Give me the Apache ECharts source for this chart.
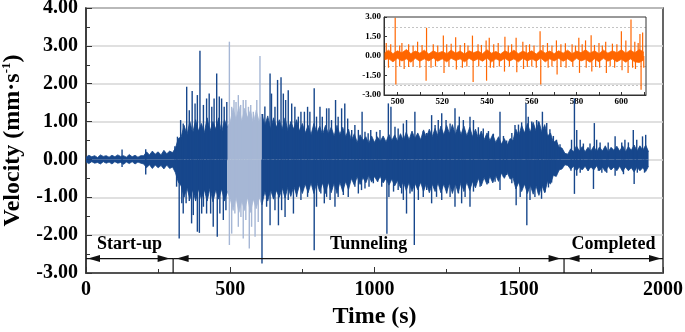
<!DOCTYPE html>
<html>
<head>
<meta charset="utf-8">
<script src="https://cdn.jsdelivr.net/npm/echarts@6/dist/echarts.min.js"></script>
<style>
  html, body { margin: 0; padding: 0; background: #fff; }
  #chart { width: 685px; height: 332px; }
</style>
</head>
<body>
<div id="chart"></div>
<script>
// main record: body envelope sampled every 10 s from t = 0
const bodyStep = 10
const bodyHi = [
  0.06, 0.11, 0.07, 0.1, 0.05, 0.12, 0.08, 0.1, 0.06, 0.11, 0.07, 0.12, 0.08, 0.1, 0.06, 0.13, 0.07, 0.11, 0.06, 0.1,
  0.1, 0.2, 0.12, 0.22, 0.14, 0.2, 0.12, 0.24, 0.15, 0.22, 0.18,
  0.3, 0.55, 0.6, 0.9, 0.65, 1.0, 0.7, 1.05, 0.75, 0.95, 0.7, 1.1, 0.75, 1.0, 0.8, 1.1, 0.7, 1.05, 0.85,
  1.0, 1.35, 1.05, 1.4, 1.0, 1.35, 1.1, 1.3, 0.95, 1.3, 1.0, 1.2,
  0.9, 1.15, 0.8, 1.1, 0.85, 1.05, 0.8, 1.1, 0.75, 1.0, 0.8, 1.05, 0.75,
  0.95, 0.7, 0.9, 0.65, 0.95, 0.7, 0.88, 0.65, 0.9, 0.68, 0.85, 0.62, 0.9, 0.66, 0.85, 0.6, 0.8,
  0.5, 0.68, 0.45, 0.65, 0.5, 0.6, 0.42, 0.62, 0.45, 0.6, 0.48, 0.62, 0.46, 0.66, 0.5, 0.65, 0.48, 0.68, 0.5,
  0.72, 0.52, 0.75, 0.55, 0.7, 0.52, 0.78, 0.58, 0.8, 0.6, 0.82, 0.62, 0.88, 0.65,
  0.9, 0.68, 0.92, 0.65, 0.9, 0.66, 0.88, 0.62, 0.85, 0.6, 0.8,
  0.55, 0.75, 0.52, 0.7, 0.5, 0.66, 0.45, 0.6,
  0.4, 0.55, 0.38, 0.55, 0.5,
  0.8, 0.62, 0.9, 0.7, 0.95, 0.72, 0.98, 0.75, 1.0, 0.72, 0.92,
  0.62, 0.7, 0.45, 0.5, 0.32, 0.3, 0.16,
  0.14, 0.28, 0.2, 0.36, 0.22, 0.34, 0.2, 0.32, 0.22, 0.35, 0.2, 0.33, 0.22, 0.36, 0.2, 0.32, 0.24, 0.35, 0.22, 0.36,
  0.2, 0.34, 0.24, 0.38, 0.22, 0.36, 0.24, 0.38, 0.2
]
const bodyLo = [
  -0.07, -0.11, -0.06, -0.1, -0.08, -0.12, -0.06, -0.1, -0.07, -0.12, -0.06, -0.1, -0.08, -0.13, -0.07, -0.11, -0.06, -0.12, -0.07, -0.1,
  -0.12, -0.22, -0.14, -0.24, -0.15, -0.22, -0.16, -0.25, -0.15, -0.24, -0.2,
  -0.35, -0.6, -0.7, -1.0, -0.75, -1.05, -0.8, -1.1, -0.78, -1.05, -0.8, -1.1, -0.75, -1.12, -0.8, -1.05, -0.78, -1.1, -0.85,
  -1.05, -1.35, -1.0, -1.4, -1.1, -1.35, -1.0, -1.4, -1.05, -1.3, -1.0, -1.2,
  -0.85, -1.1, -0.8, -1.05, -0.82, -1.0, -0.75, -1.02, -0.72, -0.98, -0.7, -0.95, -0.68,
  -0.9, -0.65, -0.88, -0.62, -0.9, -0.6, -0.85, -0.62, -0.9, -0.6, -0.88, -0.62, -0.9, -0.6, -0.85, -0.58, -0.8,
  -0.5, -0.68, -0.45, -0.66, -0.48, -0.62, -0.42, -0.6, -0.45, -0.58, -0.45, -0.62, -0.5, -0.68, -0.52, -0.7, -0.55, -0.75, -0.58,
  -0.82, -0.6, -0.85, -0.62, -0.8, -0.6, -0.85, -0.62, -0.88, -0.65, -0.85, -0.62, -0.88, -0.65,
  -0.88, -0.62, -0.9, -0.64, -0.88, -0.6, -0.85, -0.6, -0.82, -0.58, -0.75,
  -0.5, -0.7, -0.48, -0.66, -0.45, -0.62, -0.42, -0.58,
  -0.36, -0.5, -0.34, -0.52, -0.48,
  -0.78, -0.6, -0.85, -0.65, -0.9, -0.68, -0.92, -0.7, -0.95, -0.68, -0.88,
  -0.58, -0.65, -0.42, -0.45, -0.28, -0.25, -0.14,
  -0.16, -0.26, -0.18, -0.3, -0.2, -0.28, -0.18, -0.3, -0.2, -0.28, -0.17, -0.3, -0.2, -0.32, -0.18, -0.28, -0.2, -0.3, -0.18, -0.32,
  -0.2, -0.3, -0.22, -0.33, -0.2, -0.3, -0.22, -0.32, -0.18
]

// single peaks of the main record (time s, velocity)
const spikeT = [
  125, 207, 308, 317, 328, 337, 349, 358, 368, 378, 386, 395, 407, 418, 427, 436, 444, 453, 462, 470, 479, 488,
  497, 505, 513, 520, 528, 536, 545, 554, 563, 571, 580, 592, 603,
  612, 620, 638, 643, 655, 664, 676, 684, 692, 701, 713, 724, 736, 745, 757, 768, 776, 791, 799, 811, 819, 834, 842,
  851, 865, 874, 886, 897, 907, 921, 932, 944, 957, 967, 978, 987, 1007, 1019, 1048, 1057, 1071, 1082, 1100,
  1111, 1140, 1169, 1181, 1198, 1210, 1221, 1233, 1248, 1262, 1279, 1294, 1308, 1331, 1343, 1360, 1377, 1395,
  1412, 1435, 1447, 1458, 1476, 1487, 1499, 1510, 1525, 1533, 1545, 1562, 1568, 1582, 1597, 1608, 1620, 1631,
  1643, 1683, 1693, 1701, 1713, 1724, 1747, 1762, 1770, 1782, 1810, 1834, 1857, 1868, 1880, 1897, 1909, 1929, 1940,
  125, 207, 314, 323, 332, 337, 347, 358, 366, 372, 386, 393, 401, 407, 418, 432, 441, 455, 464, 476, 485,
  497, 505, 516, 528, 537, 545, 554, 566, 574, 586, 597,
  610, 626, 638, 655, 667, 678, 690, 701, 719, 730, 745, 768, 791, 799, 814, 826, 834, 846, 863, 874, 892, 909,
  932, 944, 955, 967, 981, 996, 1011, 1025, 1043, 1050, 1066, 1082, 1094, 1100, 1111, 1123, 1138, 1152, 1169,
  1181, 1198, 1215, 1233, 1250, 1262, 1279, 1291, 1302, 1314, 1331, 1343, 1366, 1395, 1418, 1435, 1447, 1458,
  1476, 1491, 1505, 1528, 1539, 1556, 1568, 1579, 1591, 1603, 1614, 1625, 1681, 1693, 1701, 1713, 1741, 1759,
  1776, 1788, 1805, 1834, 1863, 1900, 1911, 1936
]
const spikeV = [
  0.26, 0.27, 0.35, 0.6, 1.04, 0.95, 1.92, 1.3, 1.81, 1.48, 1.7, 2.87, 1.44, 1.61, 1.74, 1.39, 1.61, 2.27, 1.66, 1.61, 1.39, 1.52,
  3.11, 1.39, 1.57, 1.52, 1.7, 1.44, 1.57, 1.57, 1.39, 1.44, 1.26, 1.57, 2.73,
  1.2, 1.4, 2.27, 1.74, 1.39, 2.1, 2.17, 1.74, 1.57, 1.83, 1.48, 1.39, 1.13, 1.26, 1.26, 1.39, 1.26, 1.88, 1.13, 1.39, 1.13, 1.35, 1.35,
  1.04, 1.57, 1.13, 1.35, 1.48, 1.08, 0.78, 0.91, 0.78, 1.26, 0.73, 0.69, 0.78, 0.73, 0.78, 1.48, 1.39, 0.86, 0.82, 0.95,
  1.04, 1.26, 0.75, 0.7, 1.17, 0.91, 1.04, 1.22, 1.04, 0.95, 1.35, 1.13, 1.04, 1.13, 1.04, 0.85, 0.82, 0.75,
  0.68, 1.26, 0.62, 0.5, 0.7, 0.91, 0.92, 0.98, 1.48, 1.13, 1.0, 1.04, 1.0, 1.26, 0.96, 0.8, 0.62, 0.52,
  0.4, 0.52, 1.61, 0.78, 0.52, 0.42, 0.42, 0.96, 0.52, 0.45, 0.45, 0.61, 0.45, 0.52, 0.45, 0.78, 0.52, 0.61, 0.65,
  -0.2, -0.4, -0.72, -2.09, -1.16, -1.43, -1.16, -1.1, -1.69, -1.47, -1.91, -1.94, -1.43, -1.25, -1.43, -1.43, -1.78, -2.04, -1.43, -1.6, -1.34,
  -2.26, -1.96, -1.43, -1.78, -1.52, -2.09, -1.6, -2.35, -1.78, -2.04, -1.65,
  -2.75, -1.25, -1.74, -1.34, -1.74, -1.34, -1.52, -1.07, -1.43, -0.99, -1.07, -0.99, -2.4, -1.25, -0.9, -1.16, -0.99, -1.07, -1.25, -0.99, -0.94, -0.99,
  -0.72, -0.9, -0.81, -0.77, -0.72, -0.63, -0.59, -0.72, -1.96, -0.99, -0.85, -0.81, -0.9, -1.07, -1.43, -0.9, -2.26, -1.07, -0.99,
  -0.81, -1.16, -0.99, -1.07, -0.9, -0.99, -1.25, -0.9, -1.16, -0.99, -1.25, -0.85, -0.72, -0.63, -0.59, -0.81, -0.46, -0.41,
  -0.63, -1.21, -0.99, -1.74, -1.07, -0.99, -0.9, -1.04, -0.87, -0.74, -0.61, -0.43, -0.3, -0.91, -0.43, -0.35, -0.3, -0.78,
  -0.3, -0.35, -0.35, -0.43, -0.39, -0.65, -0.35, -0.35
]

// highlighted window (s), shown enlarged in the inset
const zoomFrom = 490
const zoomTo = 610

// inset record: body envelope sampled every 2 s from t = 494
const insetStart = 494
const insetStep = 2
const insetHi = [
  0.2, 0.45, 0.18, 0.4, 0.25, 0.5, 0.18, 0.38, 0.22, 0.45,
  0.15, 0.4, 0.22, 0.35, 0.18, 0.45, 0.22, 0.38, 0.15, 0.4,
  0.25, 0.38, 0.18, 0.48, 0.22, 0.35, 0.15, 0.4, 0.22, 0.45,
  0.18, 0.38, 0.22, 0.4, 0.15, 0.45, 0.22, 0.38, 0.18, 0.4,
  0.22, 0.45, 0.18, 0.38, 0.25, 0.48, 0.22, 0.4, 0.18, 0.45,
  0.22, 0.4, 0.25, 0.48, 0.22, 0.45, 0.25, 0.5, 0.3
]
const insetLo = [
  -0.3, -0.2, -0.45, -0.18, -0.38, -0.22, -0.48, -0.18, -0.4, -0.22,
  -0.38, -0.15, -0.4, -0.22, -0.45, -0.18, -0.35, -0.22, -0.45, -0.18,
  -0.38, -0.22, -0.4, -0.15, -0.45, -0.22, -0.38, -0.18, -0.4, -0.22,
  -0.45, -0.18, -0.38, -0.22, -0.4, -0.15, -0.45, -0.22, -0.38, -0.18,
  -0.4, -0.22, -0.45, -0.18, -0.38, -0.25, -0.48, -0.22, -0.45, -0.18,
  -0.4, -0.22, -0.45, -0.25, -0.48, -0.22, -0.45, -0.5, -0.3
]
const insetSpikeT = [
  495, 497, 499, 501, 502, 505, 507, 509, 511, 513, 516, 518, 520.5, 522, 524, 526, 528, 530, 531.5, 533.5, 536,
  537.5, 539.6, 541, 543, 545, 548, 549.5, 551, 553, 556, 557.5, 559, 561, 563.7, 565, 567, 569, 571, 573, 575,
  578, 579.5, 581, 582.5, 584, 586.5, 588, 590, 591.5, 593, 596, 598, 600, 602, 604.3, 606, 607.5, 608.3, 609.5,
  496, 499.3, 501, 503, 505, 507, 510, 512.8, 515, 517, 520.8, 523, 526.3, 529, 531, 533.8, 536.3, 539.8, 541.5,
  543, 545.5, 547.8, 550, 553.3, 556.3, 558, 560, 562, 564, 567.3, 569, 571.3, 573, 575.3, 578.3, 581.3, 584.3,
  586.8, 588.5, 590.3, 593.3, 595, 597, 600.3, 603, 605, 606.3, 608.8, 610
]
const insetSpikeV = [
  1.0, 0.9, 2.95, 0.8, 1.0, 0.9, 0.8, 1.1, 0.85, 2.17, 0.9, 0.8, 1.57, 0.9, 0.95, 1.44, 0.85, 1.0, 0.8, 1.57, 0.9,
  0.85, 1.2, 1.4, 0.9, 1.0, 1.48, 0.8, 0.9, 1.4, 1.1, 0.85, 0.9, 0.8, 1.9, 0.85, 1.0, 0.8, 1.2, 0.9, 0.98,
  0.9, 0.8, 1.4, 0.9, 1.2, 1.6, 0.85, 1.0, 0.8, 1.1, 0.95, 0.9, 1.9, 1.2, 2.8, 1.1, 1.0, 1.7, 1.8,
  -0.9, -2.2, -0.8, -1.0, -0.85, -0.8, -0.9, -1.9, -0.9, -0.8, -1.3, -0.8, -1.04, -0.9, -0.8, -2.0, -0.8, -1.9, -0.9,
  -0.9, -0.8, -1.2, -0.8, -1.25, -1.0, -0.85, -0.8, -0.9, -2.2, -0.9, -0.8, -1.43, -0.85, -0.9, -0.8, -1.3, -0.9,
  -1.2, -0.85, -0.9, -1.3, -0.8, -0.9, -1.1, -1.3, -0.9, -1.0, -2.6, -0.9
]
const insetTicks = [500, 510, 520, 530, 540, 550, 560, 570, 580, 590, 600, 610]
const insetLabels = [500, 520, 540, 560, 580, 600]

// construction phases
const phaseNames = ['Start-up', 'Tunneling', 'Completed']
const phaseStart = [0, 302, 1657]
const phaseEnd = [302, 1657, 2000]

const darkBlue = '#17478c'
const lightBlue = '#a6b7d5'
const orange = '#ff6600'
const serif = '"Liberation Serif", "Times New Roman", serif'

function bodyPoints(vals, t0, step, from, to) {
  const pts = []
  vals.forEach((v, i) => {
    const t = t0 + i * step
    if (t >= from && t <= to) pts.push([t, v])
  })
  return pts
}

function areaSeries(pts, color, idx) {
  return {
    type: 'line',
    xAxisIndex: idx,
    yAxisIndex: idx,
    data: pts,
    showSymbol: false,
    symbol: 'none',
    silent: true,
    lineStyle: { width: 0.8, color: color },
    itemStyle: { color: color },
    areaStyle: { color: color, opacity: 1 },
    z: 2
  }
}

function spikeSeries(pts, color, idx, w) {
  return {
    type: 'custom',
    xAxisIndex: idx,
    yAxisIndex: idx,
    data: pts,
    silent: true,
    encode: { x: 0, y: 1 },
    renderItem: function (params, api) {
      const p0 = api.coord([api.value(0), 0])
      const p1 = api.coord([api.value(0), api.value(1)])
      return {
        type: 'line',
        shape: { x1: p0[0], y1: p0[1], x2: p1[0], y2: p1[1] },
        style: { stroke: color, lineWidth: w }
      }
    },
    z: 3
  }
}

const series = []
const bands = [[0, zoomFrom, darkBlue], [zoomFrom, zoomTo, lightBlue], [zoomTo, 2000, darkBlue]]
bands.forEach(b => {
  series.push(areaSeries(bodyPoints(bodyHi, 0, bodyStep, b[0], b[1]), b[2], 0))
  series.push(areaSeries(bodyPoints(bodyLo, 0, bodyStep, b[0], b[1]), b[2], 0))
})
const darkSpikes = []
const lightSpikes = []
spikeT.forEach((t, i) => {
  if (t > zoomFrom && t < zoomTo) lightSpikes.push([t, spikeV[i]])
  else darkSpikes.push([t, spikeV[i]])
})
series.push(spikeSeries(darkSpikes, darkBlue, 0, 1.4))
series.push(spikeSeries(lightSpikes, lightBlue, 0, 1.4))

series.push(areaSeries(bodyPoints(insetHi, insetStart, insetStep, 0, 9999), orange, 1))
series.push(areaSeries(bodyPoints(insetLo, insetStart, insetStep, 0, 9999), orange, 1))
series.push(spikeSeries(insetSpikeT.map((t, i) => [t, insetSpikeV[i]]), orange, 1, 1.2))

// phase arrows along the bottom of the main plot
const arrowLevel = -2.62
const labelLevel = -2.25
series.push({
  type: 'custom',
  xAxisIndex: 0,
  yAxisIndex: 0,
  data: phaseNames.map((n, i) => [phaseStart[i], phaseEnd[i]]),
  encode: { x: [0, 1] },
  silent: true,
  z: 5,
  renderItem: function (params, api) {
    const i = params.dataIndex
    const a = api.coord([api.value(0), arrowLevel])
    const b = api.coord([api.value(1), arrowLevel])
    const foot = api.coord([api.value(1), -3])
    const mid = api.coord([(api.value(0) + api.value(1)) / 2, labelLevel])
    const y = a[1]
    const gap = i === 0 ? 2 : 3.5
    const gapR = i === phaseNames.length - 1 ? 2 : 3.5
    const x1 = a[0] + gap
    const x2 = b[0] - gapR
    const children = [
      { type: 'line', shape: { x1: a[0], y1: y, x2: b[0], y2: y }, style: { stroke: '#111', lineWidth: 1.3 } },
      { type: 'polygon', shape: { points: [[x1, y], [x1 + 12, y - 3.5], [x1 + 12, y + 3.5]] }, style: { fill: '#111' } },
      { type: 'polygon', shape: { points: [[x2, y], [x2 - 12, y - 3.5], [x2 - 12, y + 3.5]] }, style: { fill: '#111' } },
      {
        type: 'text', x: mid[0], y: mid[1],
        style: { text: phaseNames[i], font: 'bold 18px ' + serif, fill: '#000', textAlign: 'center', textVerticalAlign: 'middle' }
      }
    ]
    if (i < phaseNames.length - 1) {
      children.push({ type: 'line', shape: { x1: b[0], y1: y, x2: b[0], y2: foot[1] }, style: { stroke: '#111', lineWidth: 1.2 } })
    }
    return { type: 'group', children: children }
  }
})

const chart = echarts.init(document.getElementById('chart'), null, { renderer: 'canvas' })
chart.setOption({
  animation: false,
  backgroundColor: '#fff',
  grid: [
    {
      left: 86, top: 8, width: 577, height: 265, containLabel: false, outerBoundsMode: 'none',
      show: true, borderColor: '#333', borderWidth: 1.5, backgroundColor: 'transparent'
    },
    {
      left: 384, top: 17, width: 262, height: 78, containLabel: false, outerBoundsMode: 'none',
      show: true, borderColor: '#333', borderWidth: 1, backgroundColor: 'transparent', z: 10
    }
  ],
  xAxis: [
    {
      type: 'value', gridIndex: 0, min: 0, max: 2000, interval: 500,
      name: 'Time (s)', nameLocation: 'middle', nameGap: 32,
      nameTextStyle: { fontFamily: serif, fontSize: 24, fontWeight: 'bold', color: '#000' },
      axisLine: { onZero: false, lineStyle: { color: '#333', width: 1.5 } },
      axisTick: { inside: true, length: 6, lineStyle: { color: '#333' } },
      minorTick: { show: true, splitNumber: 2, length: 4, lineStyle: { color: '#333' } },
      axisLabel: { fontFamily: serif, fontSize: 20, fontWeight: 'bold', color: '#000', margin: 7, formatter: v => String(v) },
      splitLine: { show: false }
    },
    {
      type: 'value', gridIndex: 1, min: 494, max: 611,
      axisLine: { onZero: false, lineStyle: { color: '#333', width: 1 } },
      axisTick: { inside: true, length: 3, customValues: insetTicks, lineStyle: { color: '#333' } },
      axisLabel: { customValues: insetLabels, fontFamily: serif, fontSize: 9, fontWeight: 'bold', color: '#000', margin: 2, formatter: v => String(v) },
      splitLine: { show: false }
    }
  ],
  yAxis: [
    {
      type: 'value', gridIndex: 0, min: -3, max: 4, interval: 1,
      name: 'Velocity (mm·s{sup|-1})', nameLocation: 'middle', nameGap: 60, nameRotate: 90,
      nameTextStyle: {
        fontFamily: serif, fontSize: 24, fontWeight: 'bold', color: '#000',
        rich: { sup: { fontFamily: serif, fontSize: 13, fontWeight: 'bold', color: '#000', verticalAlign: 'top', lineHeight: 26 } }
      },
      axisLine: { onZero: false, lineStyle: { color: '#333', width: 1.5 } },
      axisTick: { inside: true, length: 6, lineStyle: { color: '#333' } },
      minorTick: { show: true, splitNumber: 2, length: 4, lineStyle: { color: '#333' } },
      axisLabel: { fontFamily: serif, fontSize: 20, fontWeight: 'bold', color: '#000', margin: 8, formatter: v => v.toFixed(2) },
      splitLine: { show: true, lineStyle: { color: '#d6d6d6', width: 1.5 } }
    },
    {
      type: 'value', gridIndex: 1, min: -3, max: 3, interval: 1.5,
      axisLine: { onZero: false, lineStyle: { color: '#333', width: 1 } },
      axisTick: { inside: true, length: 3, lineStyle: { color: '#333' } },
      minorTick: { show: false, splitNumber: 2 },
      minorSplitLine: { show: true, lineStyle: { color: '#c4c4c4', type: [2, 2], width: 1 } },
      axisLabel: { fontFamily: serif, fontSize: 9, fontWeight: 'bold', color: '#000', margin: 3, formatter: v => v.toFixed(2) },
      splitLine: { show: false }
    }
  ],
  series: series
})
window.addEventListener('resize', () => {
  chart.resize()
})
</script>
</body>
</html>
